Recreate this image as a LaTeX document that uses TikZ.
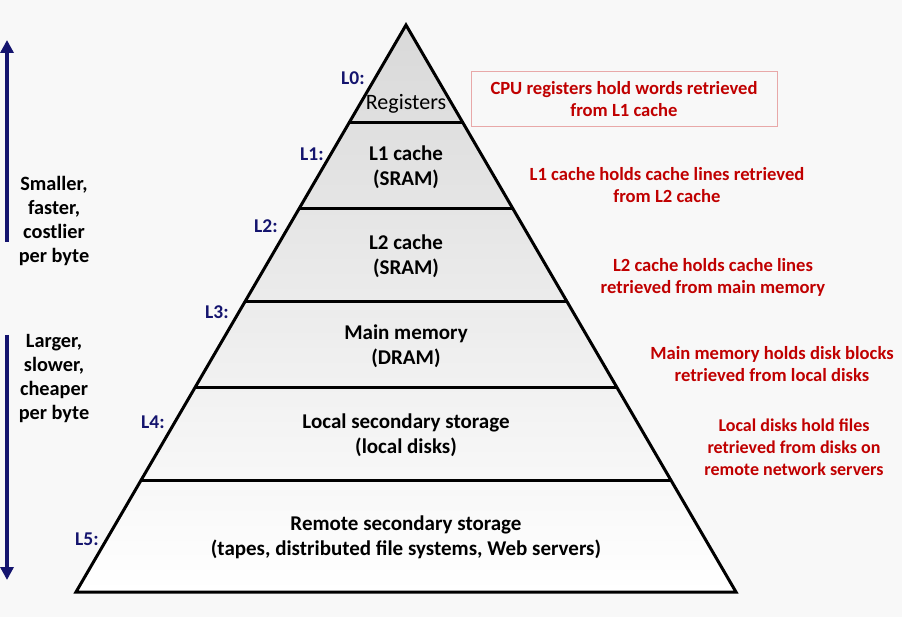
\documentclass[tikz,border=0pt]{standalone}
\usepackage{fontspec}
\setmainfont{Carlito}
\usetikzlibrary{arrows.meta,calc}
\definecolor{navy}{HTML}{14146E}
\definecolor{dred}{HTML}{C00000}
\definecolor{bg}{HTML}{F8F8F8}
\definecolor{boxline}{HTML}{E8A8A8}
\begin{document}
\begin{tikzpicture}[x=1pt,y=-1pt,
  lvl/.style={text=navy, font=\bfseries\fontsize{19.5}{22}\selectfont},
  desc/.style={text=dred, font=\bfseries\fontsize{18.6}{22}\selectfont, align=center},
  layer/.style={font=\bfseries\fontsize{21}{25}\selectfont, align=center},
  side/.style={font=\bfseries\fontsize{20.3}{24}\selectfont, align=center},
  edgeline/.style={line width=3pt, line join=miter},
  varrow/.style={line width=4pt, navy, -{Triangle[length=13pt,width=13pt]}}]
\fill[bg] (0,0) rectangle (902,617);
\useasboundingbox (0,0) rectangle (902,617);
\coordinate (apex) at (406,25);
\coordinate (bl) at (76,592);
\coordinate (br) at (736,592);
\shade[top color=gray!30, bottom color=white] (apex) -- (br) -- (bl) -- cycle;
\foreach \t in {0.1711,0.3228,0.4868,0.6402,0.8025}
  \draw[edgeline] ($(apex)!\t!(bl)$) -- ($(apex)!\t!(br)$);
\draw[edgeline] (apex) -- (br) -- (bl) -- cycle;

% layer texts
\node[layer, font=\fontsize{22}{25}\selectfont] (l0t) at (406,103.5) {Registers};
\node[layer] (l1t) at (406,167) {L1 cache\\(SRAM)};
\node[layer] (l2t) at (406,256) {L2 cache\\(SRAM)};
\node[layer] (l3t) at (406,346.5) {Main memory\\(DRAM)};
\node[layer] (l4t) at (406,435.5) {Local secondary storage\\(local disks)};
\node[layer] (l5t) at (406,537) {Remote secondary storage\\(tapes, distributed file systems, Web servers)};

% level labels
\node[lvl] (L0) at (353,78) {L0:};
\node[lvl] (L1) at (312,154) {L1:};
\node[lvl] (L2) at (266,226) {L2:};
\node[lvl] (L3) at (217,312) {L3:};
\node[lvl] (L4) at (153,422) {L4:};
\node[lvl] (L5) at (87,539) {L5:};

% descriptions
\node[desc, draw=boxline, line width=1pt, minimum width=306pt, minimum height=55pt] (d0) at (624,99) {CPU registers hold words retrieved\\from L1 cache};
\node[desc] (d1) at (667,185) {L1 cache holds cache lines retrieved\\from L2 cache};
\node[desc] (d2) at (713,277) {L2 cache holds cache lines\\retrieved from main memory};
\node[desc] (d3) at (772,364.5) {Main memory holds disk blocks\\retrieved from local disks};
\node[desc, font=\bfseries\fontsize{18}{22}\selectfont] (d4) at (794,447) {Local disks hold files\\retrieved from disks on\\remote network servers};

% side
\node[side] (s1) at (54,220.5) {Smaller,\\faster,\\costlier\\per byte};
\node[side] (s2) at (54,378.5) {Larger,\\slower,\\cheaper\\per byte};
\coordinate (a1s) at (7,242);
\coordinate (a1e) at (7,40);
\coordinate (a2s) at (7,335);
\coordinate (a2e) at (7,580);
\draw[varrow] (a1s) -- (a1e);
\draw[varrow] (a2s) -- (a2e);
\end{tikzpicture}
\end{document}
